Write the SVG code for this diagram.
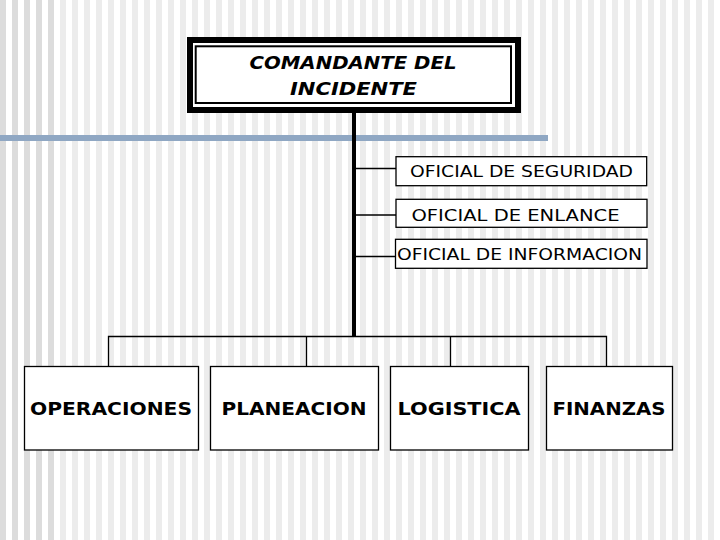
<svg xmlns="http://www.w3.org/2000/svg" width="720" height="540" viewBox="0 0 720 540">
  <defs>
    <pattern id="stripes" x="0" y="0" width="12" height="540" patternUnits="userSpaceOnUse">
      <rect x="0" y="0" width="6" height="540" fill="#ececec"/>
    </pattern>
    <style>
      .box { fill: #ffffff; stroke: #000000; stroke-width: 1.3; }
      .conn { stroke: #000000; stroke-width: 1.3; fill: none; }
      .side { font-family: "DejaVu Sans", Verdana, sans-serif; font-size: 15.5px; fill: #000; }
      .main { font-family: "DejaVu Sans", Verdana, sans-serif; font-size: 18px; font-weight: bold; fill: #000; }
      .top { font-family: "DejaVu Sans", Verdana, sans-serif; font-size: 18px; font-weight: bold; font-style: italic; fill: #000; }
    </style>
  </defs>
  <g id="background">
    <rect x="0" y="0" width="720" height="540" fill="#ffffff"/>
    <rect x="0" y="0" width="720" height="540" fill="url(#stripes)"/>
    <rect x="0" y="0" width="6" height="540" fill="#dcdcdc"/>
    <rect x="12" y="0" width="6" height="540" fill="#dcdcdc"/>
    <rect x="24" y="0" width="6" height="540" fill="#dcdcdc"/>
    <rect x="36" y="0" width="6" height="540" fill="#dcdcdc"/>
    <rect x="48" y="0" width="6" height="540" fill="#dcdcdc"/>
    <rect x="0" y="135" width="548" height="6" fill="#8fa7c3"/>
  </g>
  <g id="connectors">
    <line x1="354" y1="112" x2="354" y2="337" stroke="#000" stroke-width="4"/>
    <line class="conn" x1="356" y1="168.5" x2="396" y2="168.5"/>
    <line class="conn" x1="356" y1="215" x2="396" y2="215"/>
    <line class="conn" x1="356" y1="256.5" x2="396" y2="256.5"/>
    <path class="conn" d="M108.5,366 V336.5 H606.5 V366"/>
    <line class="conn" x1="306.5" y1="336.5" x2="306.5" y2="366"/>
    <line class="conn" x1="450.5" y1="336.5" x2="450.5" y2="366"/>
  </g>
  <g id="comandante">
    <rect x="187" y="37" width="334" height="76" fill="#000"/>
    <rect x="193" y="43" width="322" height="64" fill="#fff"/>
    <rect x="195.7" y="46.3" width="315.3" height="56.7" fill="#fff" stroke="#000" stroke-width="2"/>
    <text class="top" x="249.5" y="69" textLength="207" lengthAdjust="spacingAndGlyphs">COMANDANTE DEL</text>
    <text class="top" x="290" y="95" textLength="127" lengthAdjust="spacingAndGlyphs">INCIDENTE</text>
  </g>
  <g id="seguridad">
    <rect class="box" x="396" y="156.7" width="250.7" height="29"/>
    <text class="side" x="410" y="177" textLength="223" lengthAdjust="spacingAndGlyphs">OFICIAL DE SEGURIDAD</text>
  </g>
  <g id="enlance">
    <rect class="box" x="396" y="199.3" width="251" height="28"/>
    <text class="side" x="411.5" y="220.5" textLength="208" lengthAdjust="spacingAndGlyphs">OFICIAL DE ENLANCE</text>
  </g>
  <g id="informacion">
    <rect class="box" x="395.5" y="239.3" width="251.5" height="29"/>
    <text class="side" x="397" y="260" textLength="245" lengthAdjust="spacingAndGlyphs">OFICIAL DE INFORMACION</text>
  </g>
  <g id="operaciones">
    <rect class="box" x="24.5" y="366.5" width="174" height="83.5"/>
    <text class="main" x="30" y="415" textLength="162" lengthAdjust="spacingAndGlyphs">OPERACIONES</text>
  </g>
  <g id="planeacion">
    <rect class="box" x="210.5" y="366.5" width="168" height="83.5"/>
    <text class="main" x="221.5" y="415" textLength="145" lengthAdjust="spacingAndGlyphs">PLANEACION</text>
  </g>
  <g id="logistica">
    <rect class="box" x="390.5" y="366.5" width="138" height="83.5"/>
    <text class="main" x="397.5" y="415" textLength="123" lengthAdjust="spacingAndGlyphs">LOGISTICA</text>
  </g>
  <g id="finanzas">
    <rect class="box" x="546.5" y="366.5" width="126" height="83.5"/>
    <text class="main" x="552.5" y="415" textLength="113" lengthAdjust="spacingAndGlyphs">FINANZAS</text>
  </g>
</svg>
